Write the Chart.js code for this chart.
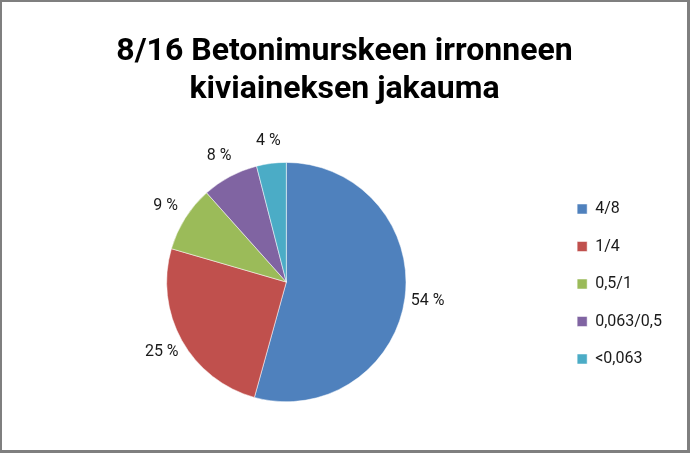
<!DOCTYPE html>
<html>
<head>
<meta charset="utf-8">
<script src="https://cdn.jsdelivr.net/npm/chart.js@4/dist/chart.umd.min.js"></script>
<style>
  html, body { margin: 0; padding: 0; background: #fff; }
  #wrap { position: relative; width: 690px; height: 453px; }
  #wrap:after {
    content: ''; position: absolute; left: 0; top: 0; right: 0; bottom: 0;
    border: 2px solid #7f7f7f; border-right-width: 3px; border-bottom-width: 3px;
    pointer-events: none;
  }
  canvas { display: block; }
</style>
</head>
<body>
<div id="wrap"><canvas id="pie" width="690" height="453"></canvas></div>
<script>
var titleLines = ['8/16 Betonimurskeen irronneen', 'kiviaineksen jakauma'];
var fractions = ['4/8', '1/4', '0,5/1', '0,063/0,5', '<0,063'];
var shares = [54.3, 25.2, 8.9, 7.6, 4.0];
var sliceColors = ['#4F81BD', '#C0504D', '#9BBB59', '#8064A2', '#4BACC6'];

// percent labels just outside each slice
var outsideLabels = {
    id: 'outsideLabels',
    afterDatasetsDraw: function (chart) {
        var ctx = chart.ctx;
        var meta = chart.getDatasetMeta(0);
        ctx.save();
        ctx.font = '16px Roboto';
        ctx.fillStyle = '#1a1a1a';
        ctx.textAlign = 'center';
        ctx.textBaseline = 'middle';
        meta.data.forEach(function (arc, i) {
            var p = arc.getProps(['x', 'y', 'startAngle', 'endAngle', 'outerRadius'], true);
            var mid = (p.startAngle + p.endAngle) / 2;
            var r = p.outerRadius + 23;
            ctx.fillText(Math.round(shares[i]) + ' %', p.x + Math.cos(mid) * r, p.y + Math.sin(mid) * r);
        });
        ctx.restore();
    }
};

var chart = new Chart(document.getElementById('pie').getContext('2d'), {
    type: 'pie',
    data: {
        labels: fractions,
        datasets: [{
            data: shares,
            backgroundColor: sliceColors,
            borderColor: '#ffffff',
            borderWidth: 0.5
        }]
    },
    options: {
        responsive: false,
        animation: false,
        layout: {
            padding: { left: 17, right: 18, bottom: 51 }
        },
        plugins: {
            title: {
                display: true,
                text: titleLines,
                color: '#000',
                font: { family: 'Roboto', size: 32, weight: 'bold', lineHeight: 1.19 },
                padding: { top: 33, bottom: 53 }
            },
            legend: {
                position: 'right',
                title: {
                    display: true,
                    text: ' ',
                    font: { size: 10, lineHeight: 1.2 },
                    padding: { top: 154, bottom: 0 }
                },
                labels: {
                    color: '#1a1a1a',
                    font: { family: 'Roboto', size: 16 },
                    boxWidth: 10,
                    boxHeight: 10,
                    padding: 21.5
                }
            },
            tooltip: { enabled: false }
        }
    },
    plugins: [outsideLabels]
});
</script>
</body>
</html>
